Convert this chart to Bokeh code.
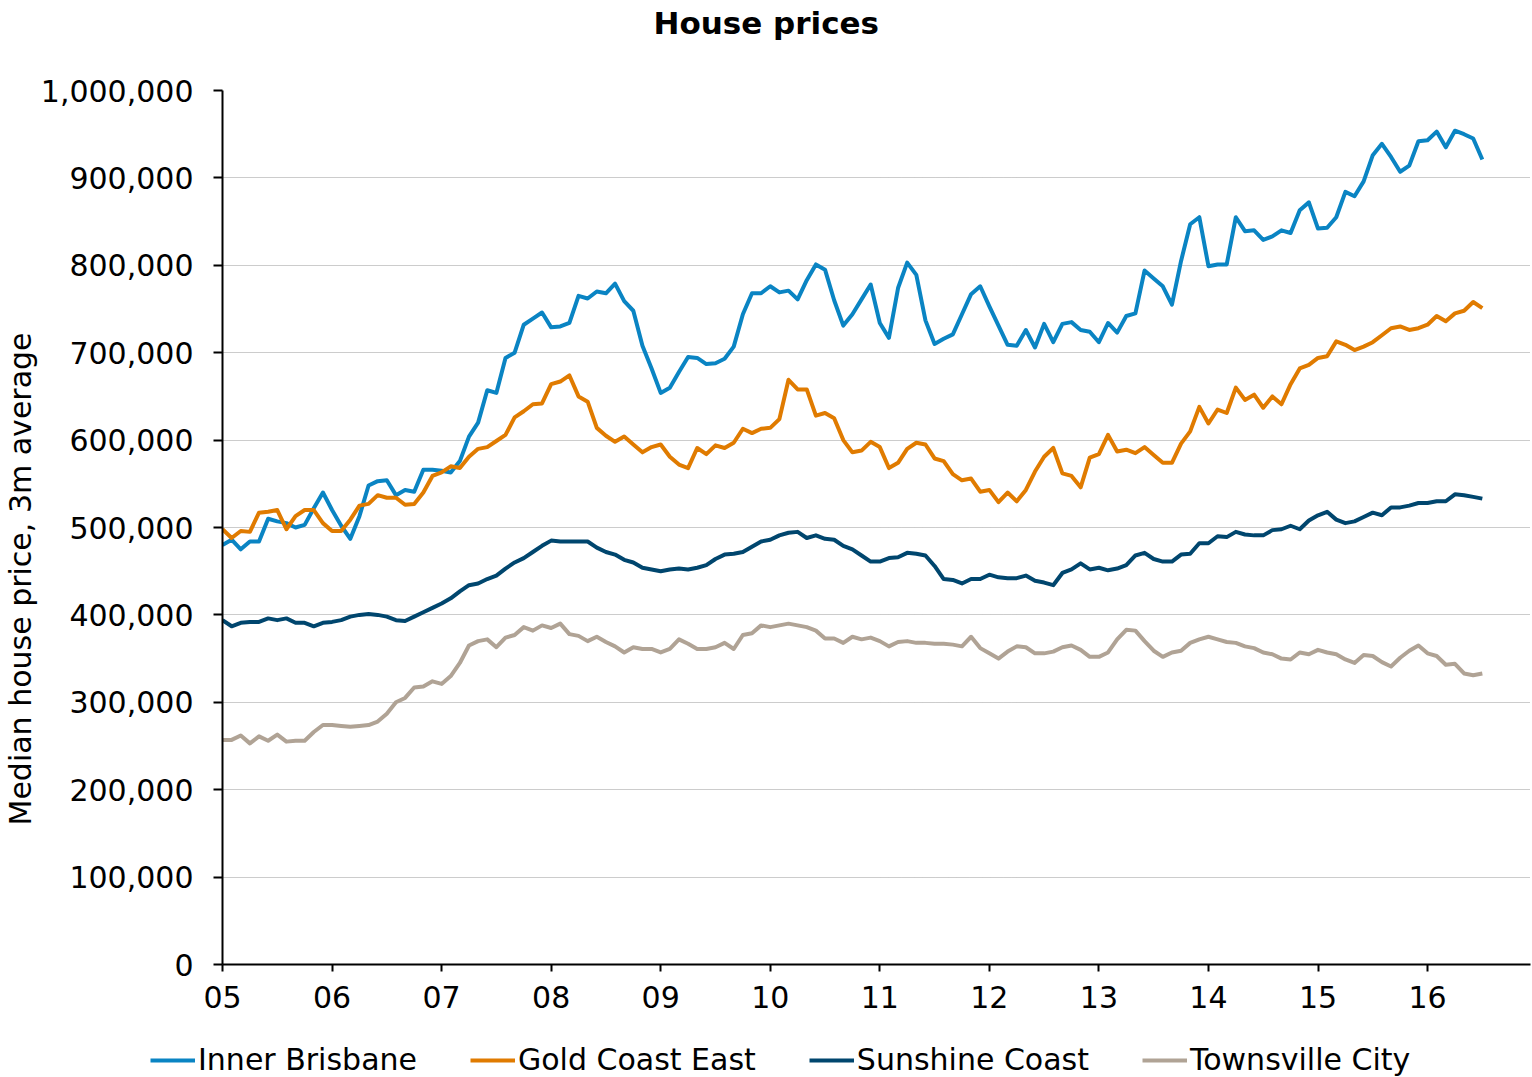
import numpy as np
import pandas as pd
from bokeh.plotting import figure
from bokeh.layouts import column
from bokeh.models import (ColumnDataSource, FixedTicker, NumeralTickFormatter,
                          Legend, LegendItem, Title, Range1d)
from bokeh.embed import file_html
from bokeh.resources import INLINE

# ---------------- data (monthly, Jan 2005 - Jul 2016, values in $ thousands) ----------------
inner_brisbane = [
    480, 486, 475, 484, 484, 510, 507, 505, 500, 503, 522, 540, 520, 502, 487, 513,
    548, 553, 554, 537, 543, 541, 566, 566, 565, 563, 576, 604, 620, 657, 654, 694,
    700, 732, 739, 746, 729, 730, 734, 765, 762, 770, 768, 779, 759, 748, 708, 682,
    654, 660, 678, 695, 694, 687, 688, 693, 707, 744, 768, 768, 776, 769, 771, 761,
    783, 801, 795, 760, 731, 744, 761, 778, 734, 717, 774, 803, 789, 737, 710, 716,
    721, 744, 767, 776, 753, 731, 709, 708, 726, 706, 733, 712, 733, 735, 726, 724,
    712, 734, 723, 742, 745, 794, 785, 776, 755, 805, 847, 855, 799, 801, 801, 855,
    839, 840, 829, 833, 840, 837, 863, 872, 842, 843, 855, 884, 879, 896, 926, 939,
    924, 907, 914, 942, 943, 953, 935, 954, 950, 945, 921,
]
gold_coast_east = [
    498, 488, 496, 495, 517, 518, 520, 498, 513, 520, 520, 505, 496, 496, 509, 525,
    527, 537, 534, 534, 526, 527, 540, 559, 563, 570, 568, 581, 590, 592, 599, 606,
    626, 633, 641, 642, 664, 667, 674, 650, 644, 614, 605, 598, 604, 595, 586, 592,
    595, 581, 572, 568, 591, 584, 594, 591, 597, 613, 608, 613, 614, 624, 669, 658,
    658, 628, 631, 625, 600, 586, 588, 598, 592, 568, 574, 590, 597, 595, 579, 576,
    561, 554, 556, 541, 543, 529, 540, 530, 543, 564, 581, 591, 562, 559, 546, 580,
    584, 606, 587, 589, 585, 592, 583, 574, 574, 596, 610, 638, 619, 635, 631, 660,
    646, 652, 637, 650, 641, 664, 682, 686, 694, 696, 713, 709, 703, 707, 712, 720,
    728, 730, 726, 728, 732, 742, 736, 745, 748, 758, 751,
]
sunshine_coast = [
    394, 387, 391, 392, 392, 396, 394, 396, 391, 391, 387, 391, 392, 394, 398, 400,
    401, 400, 398, 394, 393, 398, 403, 408, 413, 419, 427, 434, 436, 441, 445, 453,
    460, 465, 472, 479, 485, 484, 484, 484, 484, 477, 472, 469, 463, 460, 454, 452,
    450, 452, 453, 452, 454, 457, 464, 469, 470, 472, 478, 484, 486, 491, 494, 495,
    488, 491, 487, 486, 479, 475, 468, 461, 461, 465, 466, 471, 470, 468, 456, 441,
    440, 436, 441, 441, 446, 443, 442, 442, 445, 439, 437, 434, 448, 452, 459, 452,
    454, 451, 453, 457, 468, 471, 464, 461, 461, 469, 470, 482, 482, 490, 489, 495,
    492, 491, 491, 497, 498, 502, 498, 508, 514, 518, 509, 505, 507, 512, 517, 514,
    523, 523, 525, 528, 528, 530, 530, 538, 537, 535, 533,
]
townsville_city = [
    257, 257, 262, 253, 261, 256, 263, 255, 256, 256, 266, 274, 274, 273, 272, 273,
    274, 278, 287, 300, 305, 317, 318, 324, 321, 330, 345, 365, 370, 372, 363, 374,
    377, 386, 382, 388, 385, 390, 378, 376, 370, 375, 369, 364, 357, 363, 361, 361,
    357, 361, 372, 367, 361, 361, 363, 368, 361, 377, 379, 388, 386, 388, 390, 388,
    386, 382, 373, 373, 368, 375, 372, 374, 370, 364, 369, 370, 368, 368, 367, 367,
    366, 364, 375, 362, 356, 350, 358, 364, 363, 356, 356, 358, 363, 365, 360, 352,
    352, 357, 372, 383, 382, 370, 359, 352, 357, 359, 368, 372, 375, 372, 369, 368,
    364, 362, 357, 355, 350, 349, 357, 355, 360, 357, 355, 349, 345, 354, 353, 346,
    341, 351, 359, 365, 356, 353, 343, 344, 333, 331, 333,
]
series_names = ["Inner Brisbane", "Gold Coast East", "Sunshine Coast", "Townsville City"]
series_colors = ["#0a84c3", "#e07b00", "#00466e", "#b0a395"]
year_ticks = [2005, 2006, 2007, 2008, 2009, 2010, 2011, 2012, 2013, 2014, 2015, 2016]
year_labels = ["05", "06", "07", "08", "09", "10", "11", "12", "13", "14", "15", "16"]
y_ticks = [0, 100000, 200000, 300000, 400000, 500000, 600000, 700000, 800000, 900000, 1000000]

months = pd.date_range("2005-01-01", periods=len(inner_brisbane), freq="MS")
xs = (months.year + (months.month - 1) / 12.0).to_numpy()

src = ColumnDataSource(dict(
    x=xs,
    ib=np.array(inner_brisbane) * 1000,
    gc=np.array(gold_coast_east) * 1000,
    sc=np.array(sunshine_coast) * 1000,
    tc=np.array(townsville_city) * 1000,
))

FONT = "DejaVu Sans"
PX_PER_YEAR = 109.55
FRAME_W = 1308
MAIN_H = 1030
LEG_H = 1077 - MAIN_H

p = figure(width=1532, height=MAIN_H, output_backend="svg", toolbar_location=None, title=None,
           x_range=Range1d(2005, 2005 + FRAME_W / PX_PER_YEAR), y_range=Range1d(0, 1000000),
           min_border_left=222, min_border_right=2, min_border_top=90,
           min_border_bottom=MAIN_H - 964)
p.outline_line_color = None
p.background_fill_color = "white"
p.border_fill_color = "white"

for col, color in zip(["ib", "gc", "sc", "tc"], series_colors):
    p.line("x", col, source=src, line_color=color, line_width=4, line_join="round")

# title: a thin spacer next to the frame, then the real title further out
p.add_layout(Title(text=" ", text_font_size="1px", standoff=47), "above")
p.add_layout(Title(text="House prices", align="left", offset=431, standoff=0,
                   text_font=FONT, text_font_size="31px", text_font_style="bold",
                   text_color="black"), "above")

# grid
p.xgrid.visible = False
p.ygrid.ticker = FixedTicker(ticks=y_ticks)
p.ygrid.grid_line_color = "#999999"
p.ygrid.grid_line_dash = "1 1"
p.ygrid.grid_line_width = 1

# axes
p.yaxis.ticker = FixedTicker(ticks=y_ticks)
p.yaxis.formatter = NumeralTickFormatter(format="0,0")
p.xaxis.ticker = FixedTicker(ticks=year_ticks)
p.xaxis.major_label_overrides = {t: l for t, l in zip(year_ticks, year_labels)}

for ax in (p.xaxis[0], p.yaxis[0]):
    ax.axis_line_color = "black"
    ax.axis_line_width = 2
    ax.major_tick_line_color = "black"
    ax.major_tick_line_width = 2
    ax.major_tick_in = 0
    ax.minor_tick_out = 0
    ax.minor_tick_in = 0
    ax.major_label_text_font = FONT
    ax.major_label_text_font_size = "30px"
    ax.major_label_text_color = "black"
p.yaxis.major_tick_out = 9
p.yaxis.major_label_standoff = 20
p.xaxis.major_tick_out = 7
p.xaxis.major_label_standoff = 14

# y-axis title as a side title starting 139px above the frame bottom
p.add_layout(Title(text="Median house price, 3m average", align="left", offset=139,
                   standoff=0, text_font=FONT, text_font_size="30px",
                   text_font_style="normal", text_color="black"), "left")

# ---------------- legend strip under the chart ----------------
lg = figure(width=1532, height=LEG_H, output_backend="svg", toolbar_location=None, title=None,
            x_range=Range1d(0, 1532), y_range=Range1d(0, LEG_H),
            x_axis_type=None, y_axis_type=None, min_border=0)
try:
    lg.frame_align = False          # keep the strip's frame full width
    FRAME_LEFT = 0
except Exception:
    FRAME_LEFT = 222
lg.outline_line_color = None
lg.xgrid.visible = False
lg.ygrid.visible = False
lg.background_fill_color = "white"
lg.border_fill_color = "white"
# key glyphs only (a single NaN point, nothing is drawn in the strip itself)
key_renderers = [lg.line(x=[np.nan], y=[np.nan], line_color=c, line_width=4) for c in series_colors]

legend = Legend(items=[LegendItem(label=n, renderers=[r]) for n, r in zip(series_names, key_renderers)],
                orientation="horizontal", location=(150 - FRAME_LEFT, 0))
legend.label_text_font = FONT
legend.label_text_font_size = "30px"
legend.label_text_color = "black"
legend.glyph_width = 45
legend.glyph_height = 30
legend.label_height = 30
legend.label_standoff = 3
legend.spacing = 53
legend.padding = 0
legend.margin = 0
legend.border_line_color = None
legend.background_fill_alpha = 0
lg.add_layout(legend)

open("out.html", "w").write(file_html(column(p, lg, spacing=0), INLINE))
